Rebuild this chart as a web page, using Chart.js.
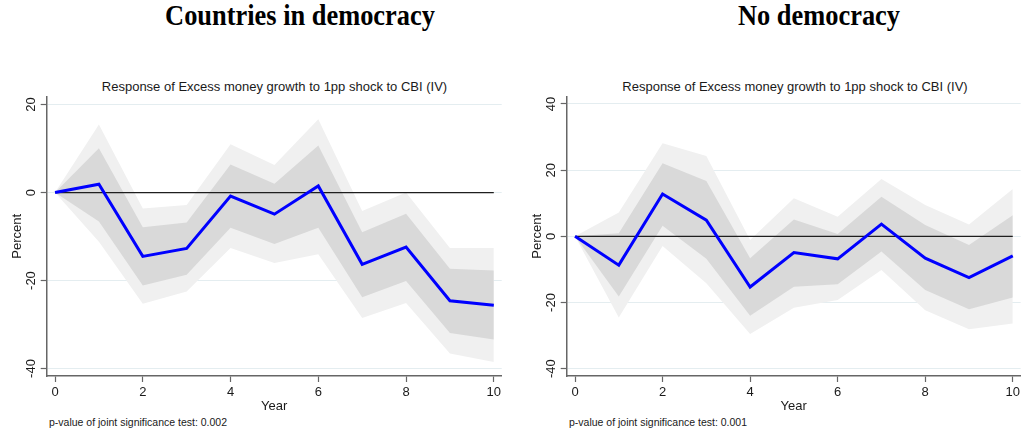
<!DOCTYPE html>
<html><head><meta charset="utf-8">
<script src="https://cdn.jsdelivr.net/npm/chart.js@4/dist/chart.umd.min.js"></script>
<style>
html,body{margin:0;padding:0;background:#fff;width:1023px;height:437px;overflow:hidden;}
body{position:relative;font-family:"Liberation Sans",Arial,sans-serif;color:#1a1a1a;}
.t{position:absolute;white-space:nowrap;}
.big{font-family:"Liberation Serif","Times New Roman",serif;font-weight:bold;font-size:30px;line-height:30px;top:0;color:#000;transform:translateX(-50%) scaleX(0.88);}
.sub{font-size:13px;line-height:13px;top:79.7px;transform:translateX(-50%);}
.note{font-size:10.5px;line-height:10.5px;top:416.8px;}
canvas{position:absolute;top:60px;}
</style>
</head><body>
<div class="t big" style="left:300px">Countries in democracy</div>
<div class="t big" style="left:819px">No democracy</div>
<div class="t sub" style="left:274.5px">Response of Excess money growth to 1pp shock to CBI (IV)</div>
<div class="t sub" style="left:795px">Response of Excess money growth to 1pp shock to CBI (IV)</div>
<div class="t note" style="left:49px">p-value of joint significance test: 0.002</div>
<div class="t note" style="left:569px">p-value of joint significance test: 0.001</div>
<canvas id="c1" width="510" height="377" style="left:0px"></canvas>
<canvas id="c2" width="503" height="377" style="left:520px"></canvas>
<script>
const years = [0,1,2,3,4,5,6,7,8,9,10];
const xTicks = [0,2,4,6,8,10];
const zeroLine = [0,0];
const zeroYears = [0,10];

// Countries in democracy
const demPoint   = [0, 1.9, -14.5, -12.7, -0.8, -4.9, 1.5, -16.3, -12.4, -24.6, -25.6];
const demInnerUp = [0, 10.1, -7.9, -6.8, 6.4, 2.0, 10.7, -9.0, -4.8, -17.3, -17.7];
const demInnerLo = [0, -6.6, -21.1, -18.7, -8.0, -11.7, -8.0, -23.8, -20.1, -31.9, -33.4];
const demOuterUp = [0, 15.5, -3.6, -2.8, 11.0, 6.3, 16.7, -4.2, 0.0, -12.6, -12.6];
const demOuterLo = [0, -11.2, -25.3, -22.5, -12.6, -16.0, -14.0, -28.5, -25.1, -36.6, -38.5];
const demYTicks = [-40,-20,0,20];

// No democracy
const nodPoint   = [0, -8.7, 12.8, 4.9, -15.3, -4.9, -6.8, 3.7, -6.6, -12.5, -5.9];
const nodInnerUp = [0, 0.9, 22.1, 16.7, -6.6, 5.1, 0.7, 12.0, 3.4, -2.6, 6.4];
const nodInnerLo = [0, -18.2, 3.2, -6.8, -24.0, -15.2, -14.5, -4.6, -16.2, -22.0, -18.5];
const nodOuterUp = [0, 7.2, 28.1, 24.3, -1.1, 11.5, 5.9, 17.3, 9.5, 3.6, 14.3];
const nodOuterLo = [0, -24.5, -2.9, -14.2, -29.5, -21.6, -19.2, -10.2, -22.3, -28.1, -26.3];
const nodYTicks = [-40,-20,0,20,40];

const FONT = '"Liberation Sans", Arial, sans-serif';
const AXIS = '#666666';
const TXT = '#1a1a1a';

const xy = (xs, ys) => xs.map((x,i)=>({x:x, y:ys[i]}));

const yLabelPlugin = {
  id: 'yLabels',
  afterDraw(chart) {
    const s = chart.scales.y, ctx = chart.ctx;
    ctx.save();
    ctx.font = '13px ' + FONT;
    ctx.fillStyle = TXT;
    ctx.textAlign = 'center';
    ctx.textBaseline = 'middle';
    s.ticks.forEach(t => {
      const y = s.getPixelForValue(t.value);
      ctx.save();
      ctx.translate(chart.chartArea.left - 15, y);
      ctx.rotate(-Math.PI/2);
      ctx.fillText(String(t.value), 0, 0);
      ctx.restore();
    });
    ctx.restore();
  }
};

function makeChart(id, pt, iu, il, ou, ol, yMin, yMax, yTicks, rightPad) {
  const none = 'rgba(0,0,0,0)';
  return new Chart(document.getElementById(id), {
    type: 'line',
    data: {
      datasets: [
        {data: xy(years, ou), fill: '+1', backgroundColor: '#f0f0f0', borderColor: none, borderWidth: 0, pointRadius: 0, order: 10},
        {data: xy(years, ol), fill: false, borderColor: none, borderWidth: 0, pointRadius: 0, order: 10},
        {data: xy(years, iu), fill: '+1', backgroundColor: '#d9d9d9', borderColor: none, borderWidth: 0, pointRadius: 0, order: 8},
        {data: xy(years, il), fill: false, borderColor: none, borderWidth: 0, pointRadius: 0, order: 8},
        {data: xy(zeroYears, zeroLine), fill: false, borderColor: '#1e1e1e', borderWidth: 1.3, pointRadius: 0, order: 2},
        {data: xy(years, pt), fill: false, borderColor: '#0000ff', borderWidth: 3, pointRadius: 0, order: 1, borderJoinStyle: 'miter'}
      ]
    },
    options: {
      responsive: false,
      animation: false,
      events: [],
      layout: {padding: {top: 36.7, right: rightPad, left: 0, bottom: 0}},
      plugins: {legend: {display: false}, tooltip: {enabled: false}, title: {display: false}},
      elements: {line: {tension: 0}},
      scales: {
        x: {
          type: 'linear', min: -0.19, max: 10.18,
          afterBuildTicks: s => { s.ticks = xTicks.map(v => ({value: v})); },
          afterFit: s => { s.height = 61; },
          ticks: {font: {family: FONT, size: 13}, color: TXT, padding: 3, autoSkip: false, maxRotation: 0},
          grid: {drawOnChartArea: false, tickLength: 6, tickColor: AXIS, tickWidth: 1.2},
          border: {color: AXIS, width: 1.5},
          title: {display: true, text: 'Year', font: {family: FONT, size: 13}, color: TXT, padding: {top: 0, bottom: 23.2}}
        },
        y: {
          type: 'linear', min: yMin, max: yMax,
          afterBuildTicks: s => { s.ticks = yTicks.map(v => ({value: v})); },
          afterFit: s => { s.width = 46.7; },
          ticks: {display: false},
          grid: {color: '#e4edf0', lineWidth: 1, tickLength: 6, tickColor: AXIS, tickWidth: 1.2},
          border: {color: AXIS, width: 1.5},
          title: {display: true, text: 'Percent', font: {family: FONT, size: 13}, color: TXT, padding: {top: 9.5, bottom: 0}}
        }
      }
    },
    plugins: [yLabelPlugin]
  });
}

makeChart('c1', demPoint, demInnerUp, demInnerLo, demOuterUp, demOuterLo, -41.7, 21.8, demYTicks, 8.3);
makeChart('c2', nodPoint, nodInnerUp, nodInnerLo, nodOuterUp, nodOuterLo, -42.2, 42.2, nodYTicks, 0);
</script>
</body></html>
